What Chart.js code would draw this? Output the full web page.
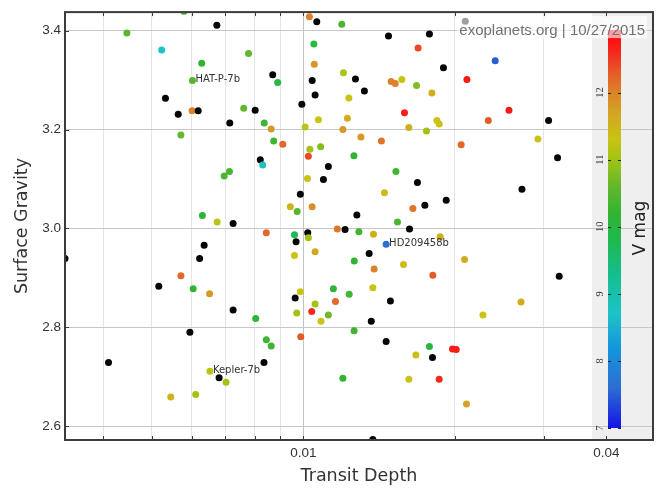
<!DOCTYPE html>
<html>
<head>
<meta charset="utf-8">
<script src="https://cdn.jsdelivr.net/npm/chart.js@4.4.0/dist/chart.umd.min.js"></script>
<style>
  html, body { margin: 0; padding: 0; background: #ffffff; }
  #wrap { width: 671px; height: 491px; }
</style>
</head>
<body>
<div id="wrap"><canvas id="chart" width="671" height="491"></canvas></div>
<script>
// Transiting planets: transit depth, surface gravity (log g) and host star V magnitude
const transitDepth = [
  0.00336, 0.00410, 0.00446, 0.00516, 0.00523, 0.00532, 0.00545, 0.00564, 0.00571, 0.00571,
  0.00579, 0.00595, 0.00602, 0.00601, 0.00604, 0.00611, 0.00618, 0.00628, 0.00630, 0.00635,
  0.00622, 0.00651, 0.00652, 0.00673, 0.00674, 0.00680, 0.00696, 0.00702, 0.00713, 0.00714,
  0.00725, 0.00725, 0.00761, 0.00778, 0.00802, 0.00804, 0.00821, 0.00830, 0.00835, 0.00836,
  0.00844, 0.00844, 0.00863, 0.00863, 0.00869, 0.00873, 0.00889, 0.00910, 0.00942, 0.00960,
  0.00960, 0.00963, 0.00967, 0.00970, 0.00972, 0.00986, 0.00986, 0.00988, 0.00993, 0.01008,
  0.01019, 0.01020, 0.01023, 0.01023, 0.01028, 0.01030, 0.01039, 0.01041, 0.01041, 0.01049,
  0.01051, 0.01055, 0.01055, 0.01055, 0.01063, 0.01071, 0.01082, 0.01084, 0.01096, 0.01121,
  0.01121, 0.01147, 0.01158, 0.01168, 0.01192, 0.01198, 0.01198, 0.01201, 0.01210, 0.01223,
  0.01231, 0.01233, 0.01260, 0.01261, 0.01262, 0.01269, 0.01277, 0.01289, 0.01301, 0.01322,
  0.01351, 0.01364, 0.01374, 0.01374, 0.01378, 0.01382, 0.01429, 0.01449, 0.01460, 0.01460,
  0.01476, 0.01489, 0.01494, 0.01522, 0.01527, 0.01538, 0.01569, 0.01581, 0.01588, 0.01620,
  0.01620, 0.01625, 0.01650, 0.01673, 0.01678, 0.01685, 0.01690, 0.01743, 0.01756, 0.01780,
  0.01780, 0.01800, 0.01805, 0.01808, 0.01842, 0.01861, 0.01861, 0.01870, 0.01898, 0.01922,
  0.01978, 0.02012, 0.02058, 0.02090, 0.02097, 0.02109, 0.02113, 0.02274, 0.02330, 0.02405,
  0.02561, 0.02706, 0.02718, 0.02924, 0.03070, 0.03199, 0.03223
];
const surfaceGravity = [
  2.939, 2.729, 3.395, 2.883, 3.361, 3.263, 2.659, 3.231, 3.189, 2.904,
  3.439, 2.790, 3.299, 3.238, 2.878, 2.664, 3.238, 3.334, 3.026, 2.966,
  2.939, 2.868, 2.711, 3.411, 3.013, 2.698, 3.106, 2.689, 3.115, 3.213,
  3.010, 2.835, 3.243, 3.354, 3.239, 2.818, 3.139, 3.128, 2.729, 3.213,
  2.991, 2.775, 3.201, 2.762, 3.311, 3.177, 3.295, 3.170, 3.044, 2.987,
  2.945, 2.859, 2.973, 2.829, 3.034, 3.069, 2.872, 2.781, 3.251, 3.205,
  3.101, 2.991, 2.981, 3.146, 3.428, 3.160, 2.832, 3.299, 3.044, 3.373,
  3.332, 2.953, 3.270, 2.847, 3.418, 3.220, 3.165, 2.812, 3.099, 3.125,
  2.825, 2.878, 2.852, 2.999, 3.413, 3.200, 2.697, 3.315, 2.998, 3.223,
  3.264, 2.867, 3.147, 2.793, 2.934, 3.302, 3.027, 2.993, 3.185, 3.278,
  2.949, 2.812, 2.880, 2.573, 2.988, 2.918, 3.177, 3.072, 2.968, 2.771,
  3.389, 2.853, 3.297, 3.293, 3.115, 3.013, 3.301, 2.927, 3.234, 3.204,
  2.695, 2.999, 3.040, 2.744, 3.289, 3.093, 3.365, 3.047, 3.197, 3.393,
  2.761, 3.274, 2.739, 2.905, 3.218, 3.211, 2.695, 2.983, 3.325, 3.057,
  2.756, 2.755, 3.169, 2.937, 3.419, 2.645, 3.301, 2.825, 3.218, 3.339,
  3.239, 2.851, 3.079, 3.181, 3.218, 3.143, 2.903
];
// null = no V magnitude available (drawn black)
const vMag = [
  null, null, 10.5, null, 8.7, null, 11.5, null, 10.6, 12.2,
  10.4, null, 10.5, 12.0, 10.2, 11.0, null, 10.2, 10.1, null,
  null, 11.8, 11.2, null, 11.2, null, 10.4, 11.0, 10.4, null,
  null, null, 10.6, 10.6, null, 10.1, null, 8.8, null, 10.3,
  12.2, 10.3, 11.8, 10.3, null, 10.3, 10.0, 12.2, 11.5, 9.8,
  11.3, null, null, 11.0, 10.5, null, 11.3, 12.3, null, 11.2,
  11.3, null, 11.0, 12.4, 12.0, 11.0, 12.6, null, 11.9, 10.0,
  11.8, 11.7, null, 11.0, null, 11.3, 10.8, 11.3, null, null,
  10.7, 10.1, 12.2, 12.1, 10.4, 11.8, 10.2, 11.1, null, 11.6,
  11.3, 10.3, 10.2, 10.3, 10.2, null, null, 10.3, 11.8, null,
  null, null, 11.3, null, 11.6, 12.0, 12.1, 11.4, 7.6, null,
  null, null, 12.0, 12.0, 10.3, 10.4, 11.3, 11.4, 12.7, 11.6,
  11.3, null, 12.1, 11.4, 10.8, null, 12.4, null, 11.0, null,
  10.0, 11.6, null, 12.3, 11.3, 11.3, 12.6, 11.6, null, null,
  12.7, 12.7, 12.2, 11.6, null, 11.7, 12.7, 11.3, 12.3, 7.5,
  12.7, 11.6, null, 11.3, null, null, null
];
const namedPlanets = ['HAT-P-7b', 'Kepler-7b', 'HD209458b'];
const namedPlanetIndex = [12, 22, 108];

const depthTicks = [0.004, 0.005, 0.006, 0.007, 0.008, 0.009, 0.01, 0.02, 0.03, 0.04];
const depthTickLabels = ['', '', '', '', '', '', '0.01', '', '', '0.04'];
const gravityTicks = [2.6, 2.8, 3.0, 3.2, 3.4];
const gravityTickLabels = ['2.6', '2.8', '3.0', '3.2', '3.4'];
const vMagTicks = [7, 8, 9, 10, 11, 12];
const vMagRange = [7, 12.93];
const depthRange = [0.00336, 0.0495];
const gravityRange = [2.572, 3.4375];

// colour scale for V magnitude (blue = bright, red = faint)
const colourStops = [
  [7.0, [20, 20, 230]], [7.6, [45, 110, 210]], [8.2, [20, 150, 220]], [8.7, [30, 195, 200]],
  [9.3, [20, 190, 140]], [9.8, [30, 185, 80]], [10.2, [50, 180, 50]], [10.6, [100, 182, 45]],
  [11.0, [160, 195, 20]], [11.3, [200, 195, 20]], [11.7, [210, 165, 35]], [12.0, [220, 130, 40]],
  [12.3, [230, 90, 40]], [12.6, [245, 40, 30]], [12.93, [255, 0, 0]]
];
function colourForVmag(v) {
  if (v === null) return '#050505';
  if (v <= colourStops[0][0]) return 'rgb(' + colourStops[0][1].join(',') + ')';
  for (let i = 1; i < colourStops.length; i++) {
    const [v1, c1] = colourStops[i];
    if (v <= v1) {
      const [v0, c0] = colourStops[i - 1];
      const t = (v - v0) / (v1 - v0);
      const c = c0.map((a, k) => Math.round(a + (c1[k] - a) * t));
      return 'rgb(' + c.join(',') + ')';
    }
  }
  return 'rgb(' + colourStops[colourStops.length - 1][1].join(',') + ')';
}

const frameColour = '#3c3c3c';

const decorations = {
  id: 'decorations',
  beforeDraw(chart) {
    const { ctx, chartArea: a } = chart;
    ctx.save();
    ctx.fillStyle = '#ffffff';
    ctx.fillRect(0, 0, chart.width, chart.height);
    // shaded panel holding the colour bar
    ctx.fillStyle = '#efefef';
    ctx.fillRect(a.right - 61, a.top, 61, a.bottom - a.top);
    ctx.restore();
  },
  afterDatasetsDraw(chart) {
    const { ctx, chartArea: a, scales } = chart;
    const xs = scales.x, ys = scales.y;
    ctx.save();

    // colour bar
    const barL = a.right - 45, barR = a.right - 32;
    const barBottom = a.bottom - 12, barTop = a.top + 18;
    const span = vMagRange[1] - vMagRange[0];
    const pix = v => barBottom - (v - vMagRange[0]) / span * (barBottom - barTop);
    const grad = ctx.createLinearGradient(0, barBottom, 0, barTop);
    colourStops.forEach(([v, c]) => {
      const t = Math.min(1, Math.max(0, (v - vMagRange[0]) / span));
      grad.addColorStop(t, 'rgb(' + c.join(',') + ')');
    });
    ctx.fillStyle = grad;
    ctx.fillRect(barL, barTop, barR - barL, barBottom - barTop);
    ctx.strokeStyle = '#222';
    ctx.lineWidth = 1;
    ctx.fillStyle = '#333';
    ctx.font = '10.5px "Liberation Serif", serif';
    ctx.textAlign = 'center';
    ctx.textBaseline = 'middle';
    vMagTicks.forEach(v => {
      const y = Math.round(pix(v)) + 0.5;
      ctx.beginPath();
      ctx.moveTo(barL, y); ctx.lineTo(barL + 3, y);
      ctx.moveTo(barR - 3, y); ctx.lineTo(barR, y);
      ctx.stroke();
      ctx.save();
      ctx.translate(barL - 8, pix(v));
      ctx.rotate(-Math.PI / 2);
      ctx.fillText(String(v), 0, 0);
      ctx.restore();
    });
    ctx.save();
    ctx.translate(a.right - 12, (a.top + a.bottom) / 2 + 2);
    ctx.rotate(-Math.PI / 2);
    ctx.fillStyle = '#222';
    ctx.font = '17px "DejaVu Sans", sans-serif';
    ctx.fillText('V mag', 0, 0);
    ctx.restore();

    // planet name labels
    ctx.fillStyle = '#333';
    ctx.font = '10px "DejaVu Sans", sans-serif';
    ctx.textAlign = 'left';
    ctx.textBaseline = 'middle';
    namedPlanets.forEach((name, k) => {
      const i = namedPlanetIndex[k];
      const px = xs.getPixelForValue(transitDepth[i]);
      const py = ys.getPixelForValue(surfaceGravity[i]);
      ctx.fillText(name, px + 3, py - 1);
    });

    // source stamp
    ctx.fillStyle = 'rgba(255,255,255,0.62)';
    ctx.fillRect(a.right - 196, a.top + 4, 190, 22);
    ctx.fillStyle = '#727272';
    ctx.font = '15px "Liberation Sans", sans-serif';
    ctx.textAlign = 'right';
    ctx.textBaseline = 'alphabetic';
    ctx.fillText('exoplanets.org | 10/27/2015', a.right - 8, a.top + 23);

    // inward tick marks
    ctx.strokeStyle = frameColour;
    ctx.lineWidth = 1;
    ctx.beginPath();
    depthTicks.forEach(v => {
      const x = Math.round(xs.getPixelForValue(v)) + 0.5;
      ctx.moveTo(x, a.bottom); ctx.lineTo(x, a.bottom - 4);
      ctx.moveTo(x, a.top); ctx.lineTo(x, a.top + 4);
    });
    gravityTicks.forEach(v => {
      const y = Math.round(ys.getPixelForValue(v)) + 0.5;
      ctx.moveTo(a.left, y); ctx.lineTo(a.left + 4, y);
    });
    ctx.stroke();

    // plot frame
    ctx.strokeStyle = frameColour;
    ctx.lineWidth = 2;
    ctx.strokeRect(a.left, a.top, a.right - a.left, a.bottom - a.top);
    ctx.restore();
  }
};

const points = transitDepth.map((d, i) => ({ x: d, y: surfaceGravity[i] }));

new Chart(document.getElementById('chart'), {
  type: 'scatter',
  data: {
    datasets: [{
      data: points,
      pointRadius: 3.5,
      pointHoverRadius: 3.5,
      pointBorderWidth: 0,
      pointBackgroundColor: vMag.map(colourForVmag),
      clip: 0
    }]
  },
  options: {
    responsive: false,
    animation: false,
    devicePixelRatio: 1,
    events: [],
    layout: { padding: { top: 7, right: 18, left: 0, bottom: 0 } },
    plugins: { legend: { display: false }, tooltip: { enabled: false } },
    scales: {
      x: {
        type: 'logarithmic',
        position: 'bottom',
        min: depthRange[0],
        max: depthRange[1],
        afterBuildTicks: s => { s.ticks = depthTicks.map(v => ({ value: v })); },
        afterFit: s => { s.height = 51; },
        ticks: {
          autoSkip: false,
          maxRotation: 0,
          padding: 5,
          color: '#333',
          font: { family: '"Liberation Sans", sans-serif', size: 13.5 },
          callback: (v, i) => depthTickLabels[i]
        },
        grid: {
          drawTicks: false,
          lineWidth: 1,
          color: c => {
            const v = c.tick ? c.tick.value : null;
            if (v === 0.04) return 'rgba(0,0,0,0)';
            if (v === 0.01) return '#c2c2c2';
            return '#e6e6e6';
          }
        },
        border: { display: false },
        title: {
          display: true,
          text: 'Transit Depth',
          color: '#333',
          font: { family: '"DejaVu Sans", sans-serif', size: 17.5 },
          padding: { top: 0, bottom: 4 }
        }
      },
      y: {
        type: 'linear',
        min: gravityRange[0],
        max: gravityRange[1],
        afterBuildTicks: s => { s.ticks = gravityTicks.map(v => ({ value: v })); },
        afterFit: s => { s.width = 65; },
        ticks: {
          padding: 4,
          color: '#333',
          font: { family: '"Liberation Sans", sans-serif', size: 13.5 },
          callback: (v, i) => gravityTickLabels[i]
        },
        grid: { drawTicks: false, lineWidth: 1, color: '#c6c6c6' },
        border: { display: false },
        title: {
          display: true,
          text: 'Surface Gravity',
          color: '#333',
          font: { family: '"DejaVu Sans", sans-serif', size: 17.5 },
          padding: { top: 11.5, bottom: 0 }
        }
      }
    }
  },
  plugins: [decorations]
});
</script>
</body>
</html>
